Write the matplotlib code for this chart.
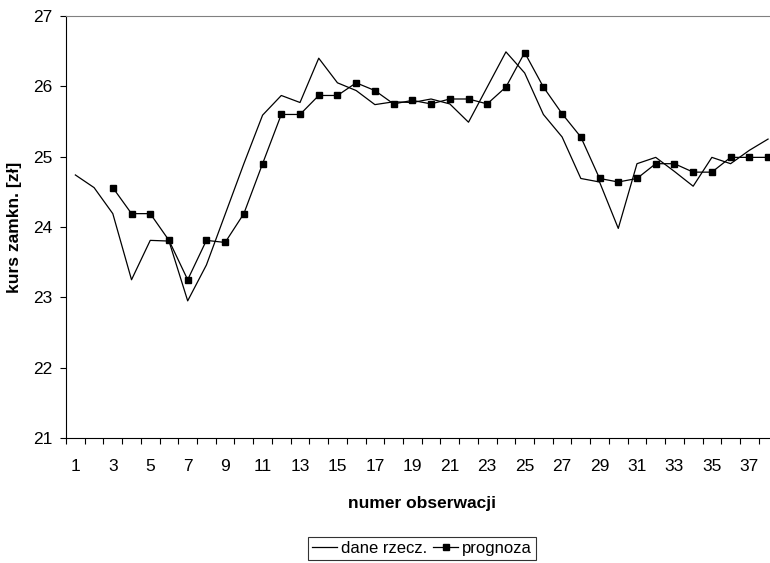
import numpy as np
from matplotlib import pyplot as plt
from matplotlib.ticker import FixedLocator

plt.rcParams['font.family'] = ['Liberation Sans', 'DejaVu Sans']

# numer obserwacji 1..38
obserwacje = list(range(1, 39))
dane_rzecz = [24.74, 24.56, 24.19, 23.25, 23.81, 23.80, 22.95, 23.46, 24.18, 24.90,
              25.59, 25.87, 25.77, 26.40, 26.05, 25.94, 25.74, 25.78, 25.77, 25.82,
              25.75, 25.49, 25.99, 26.49, 26.19, 25.60, 25.28, 24.69, 24.64, 23.98,
              24.90, 24.99, 24.79, 24.58, 24.99, 24.90, 25.09, 25.25]
prognoza = [np.nan, np.nan, 24.56, 24.19, 24.19, 23.81, 23.25, 23.81, 23.78, 24.19,
            24.90, 25.60, 25.60, 25.87, 25.87, 26.05, 25.94, 25.75, 25.80, 25.75,
            25.82, 25.82, 25.75, 25.99, 26.48, 25.99, 25.61, 25.28, 24.69, 24.64,
            24.69, 24.90, 24.90, 24.78, 24.78, 24.99, 24.99, 24.99]
etykiety_x = [str(i) for i in range(1, 38, 2)]

fig = plt.figure(figsize=(7.7, 5.63), dpi=100)
ax = fig.add_axes([66 / 770, 125 / 563, 711.4 / 770, 422 / 563])

ax.plot(obserwacje, dane_rzecz, color='black', lw=0.9, label='dane rzecz.')
ax.plot(obserwacje, prognoza, color='black', lw=0.9, marker='s', ms=5,
        label='prognoza')

ax.set_xlim(0.5, 38.5)
ax.set_ylim(21, 27)
ax.set_yticks(range(21, 28))

ax.xaxis.set_major_locator(FixedLocator(range(1, 38, 2)))
ax.set_xticklabels(etykiety_x)
ax.xaxis.set_minor_locator(FixedLocator(np.arange(0.5, 39, 1)))
ax.tick_params(axis='x', which='major', length=0, pad=15, labelsize=12.5)
ax.tick_params(axis='x', which='minor', length=4.5, width=0.8, direction='out')
ax.tick_params(axis='y', length=4.5, width=0.8, direction='out', pad=5, labelsize=12.5)

ax.spines['right'].set_visible(False)
ax.spines['top'].set_color('#808080')
ax.spines['left'].set_linewidth(0.8)
ax.spines['bottom'].set_linewidth(0.8)

ax.set_xlabel('numer obserwacji', fontsize=12.5, fontweight='bold', labelpad=16)
ax.set_ylabel('kurs zamkn. [zł]', fontsize=12.5, fontweight='bold', labelpad=8)

leg = fig.legend(loc='upper center', bbox_to_anchor=(0.548, 0.046), ncol=2,
                 fontsize=12, frameon=True, fancybox=False, handlelength=1.5,
                 handletextpad=0.2, columnspacing=0.4, borderpad=0.25,
                 borderaxespad=0)
leg.get_frame().set_edgecolor('black')
leg.get_frame().set_linewidth(0.8)

fig.savefig('out.png', dpi=100)
